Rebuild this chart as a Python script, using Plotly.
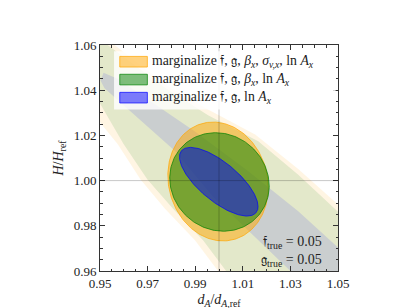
import numpy as np
import plotly.graph_objects as go

# ---- data ----
x_ticks = [0.95, 0.97, 0.99, 1.01, 1.03, 1.05]
y_ticks = [0.96, 0.98, 1.00, 1.02, 1.04, 1.06]

# outer (non-Gaussian) contours, boundary points in data units
band_orange_x = [0.9426, 0.9447, 0.9561, 0.9785, 0.9954, 1.0152, 1.0333, 1.0502, 1.0587,
                 1.0587, 1.0046, 0.9996, 0.9899, 0.9772, 0.9671, 0.9574, 0.9502, 0.9447]
band_orange_y = [1.0715, 1.0715, 1.0600, 1.0417, 1.0315, 1.0204, 1.0051, 0.9894, 0.9813,
                 0.9481, 0.9523, 0.9600, 0.9736, 0.9877, 1.0004, 1.0162, 1.0255, 1.0417]

band_green_x = [0.9405, 0.9532, 0.9764, 0.9954, 1.0165, 1.0333, 1.0502, 1.0587,
                1.0587, 1.0072, 1.0030, 0.9933, 0.9806, 0.9700, 0.9599, 0.9532, 0.9481, 0.9405]
band_green_y = [1.0715, 1.0600, 1.0417, 1.0289, 1.0174, 1.0026, 0.9860, 0.9779,
                0.9481, 0.9523, 0.9600, 0.9736, 0.9877, 1.0004, 1.0162, 1.0281, 1.0375, 1.0600]

band_blue_x = [0.9502, 0.9515, 0.9574, 0.9772, 0.9899, 1.0122, 1.0333, 1.0502, 1.0587,
               1.0587, 1.0333, 1.0300, 1.0144, 0.9975, 0.9814, 0.9616, 0.9519]
band_blue_y = [1.0443, 1.0477, 1.0451, 1.0306, 1.0217, 1.0043, 0.9864, 0.9702, 0.9630,
               0.9481, 0.9481, 0.9600, 0.9757, 0.9928, 1.0132, 1.0319, 1.0409]

# Gaussian (Fisher) ellipses: centre, half-extent in x and y, correlation
ell_names = ["marginalize 𝔣, 𝔤, <i>β<sub>x</sub></i>, <i>σ<sub>v,x</sub></i>, ln <i>A<sub>x</sub></i>",
             "marginalize 𝔣, 𝔤, <i>β<sub>x</sub></i>, ln <i>A<sub>x</sub></i>",
             "marginalize 𝔣, 𝔤, ln <i>A<sub>x</sub></i>"]
ell_cx = [0.9996, 1.0002, 0.9999]
ell_cy = [0.9996, 0.9994, 0.9995]
ell_sx = [0.0211, 0.0209, 0.0165]
ell_sy = [0.0263, 0.0218, 0.0152]
ell_rho = [-0.10, -0.08, -0.72]

rgb = ["255,165,0", "0,128,0", "0,0,255"]

FONT = "Liberation Serif, DejaVu Serif, serif"

fig = go.Figure()

bands = [(band_orange_x, band_orange_y), (band_green_x, band_green_y), (band_blue_x, band_blue_y)]
for (bx, by), c in zip(bands, rgb):
    fig.add_trace(go.Scatter(x=bx, y=by, fill="toself", mode="lines",
                             line=dict(width=0), fillcolor=f"rgba({c},0.11)",
                             showlegend=False, hoverinfo="skip"))

t = np.linspace(0, 2 * np.pi, 241)
for name, cx, cy, sx, sy, r, c in zip(ell_names, ell_cx, ell_cy, ell_sx, ell_sy, ell_rho, rgb):
    ex = cx + sx * np.cos(t)
    ey = cy + sy * (r * np.cos(t) + np.sqrt(1 - r * r) * np.sin(t))
    fig.add_trace(go.Scatter(x=ex, y=ey, fill="toself", mode="lines", name=name,
                             line=dict(width=1, color=f"rgba({c},0.7)"),
                             fillcolor=f"rgba({c},0.5)", showlegend=False))

# reference lines
fig.add_shape(type="line", xref="x", yref="paper", x0=1.0, x1=1.0, y0=0, y1=1,
              line=dict(color="rgba(0,0,0,0.22)", width=1), layer="above")
fig.add_shape(type="line", xref="paper", yref="y", x0=0, x1=1, y0=1.0, y1=1.0,
              line=dict(color="rgba(0,0,0,0.22)", width=1), layer="above")

# legend (drawn by hand to match the reference layout)
fig.add_shape(type="rect", xref="paper", yref="paper", x0=0.059, x1=0.99, y0=0.715, y1=0.972,
              fillcolor="rgba(255,255,255,0.8)", line=dict(width=0), layer="above")
leg_rows = [0.926, 0.847, 0.767]
for name, c, yc in zip(ell_names, rgb, leg_rows):
    fig.add_shape(type="rect", xref="paper", yref="paper", x0=0.083, x1=0.199,
                  y0=yc - 0.0235, y1=yc + 0.0235,
                  fillcolor=f"rgba({c},0.5)", line=dict(width=1, color=f"rgba({c},0.7)"),
                  layer="above")
    fig.add_annotation(xref="paper", yref="paper", x=0.212, y=yc, xanchor="left", yanchor="middle",
                       text=name, showarrow=False,
                       font=dict(family=FONT, size=13.8, color="#222"))

fig.add_annotation(xref="paper", yref="paper", x=0.94, y=0.088, xanchor="right", yanchor="middle",
                   align="right",
                   text="𝔣<sub>true</sub> = 0.05<br>𝔤<sub>true</sub> = 0.05", showarrow=False,
                   font=dict(family=FONT, size=14, color="#222"))

axis_common = dict(showline=True, linecolor="#333", linewidth=1, mirror="allticks",
                   ticks="inside", ticklen=5, tickcolor="#333", showgrid=False, zeroline=False,
                   tickfont=dict(family=FONT, size=13, color="#222"),
                   minor=dict(ticks="inside", ticklen=2.5, dtick=0.005, tickcolor="#333", showgrid=False))

fig.update_xaxes(range=[0.95, 1.05], tickvals=x_ticks, ticktext=[f"{v:.2f}" for v in x_ticks],
                 title=dict(text="<i>d<sub>A</sub></i>/<i>d</i><sub><i>A</i>,ref</sub>",
                            font=dict(family=FONT, size=14, color="#222"), standoff=4),
                 **axis_common)
fig.update_yaxes(range=[0.96, 1.06], tickvals=y_ticks, ticktext=[f"{v:.2f}" for v in y_ticks],
                 title=dict(text="<i>H</i>/<i>H</i><sub>ref</sub>",
                            font=dict(family=FONT, size=14, color="#222"), standoff=6),
                 **axis_common)

fig.update_layout(width=411, height=308, autosize=False,
                  margin=dict(l=92, r=81, t=37, b=36),
                  paper_bgcolor="white", plot_bgcolor="white",
                  showlegend=False)

fig.write_html("out.html")
